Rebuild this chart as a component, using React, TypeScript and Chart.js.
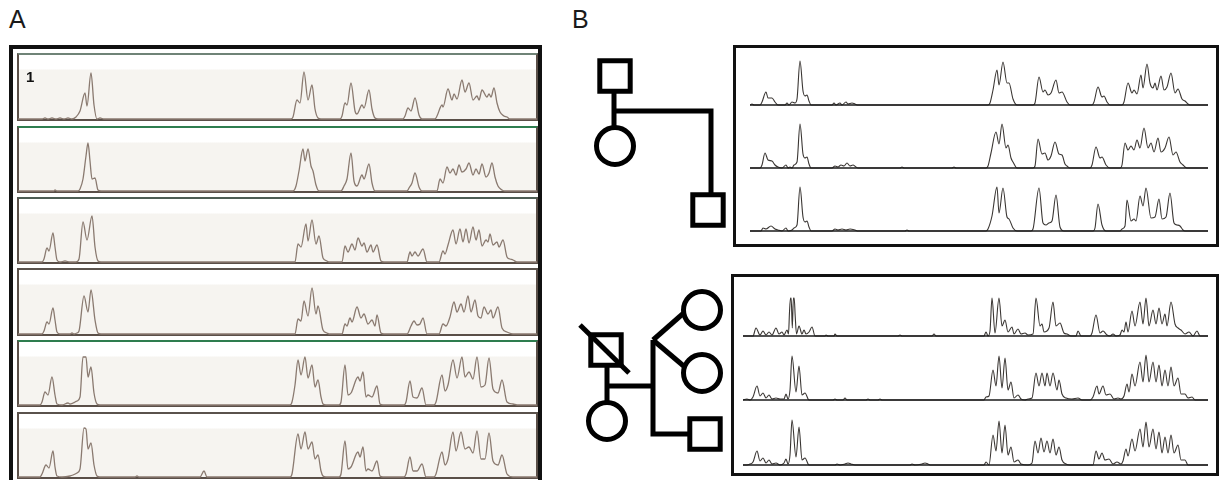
import React, { useEffect, useRef } from "react";
import { Chart, registerables } from "chart.js";
Chart.register(...registerables);

type Pt = [number, number];

// ---------- Panel A traces (x = page px, y = peak height above baseline) ----------
const traceA1: Pt[] = [[18,0],[42,0],[45,1],[48,0],[52,1],[56,0],[60,1],[64,0],[68,1],[72,0],[76,2],[80,8],[85,26],[87,13],[91,46],[94,14],[97,0],[100,1],[104,0],
[291,0],[293,2],[297,19],[300,16],[304,47],[308,19],[312,34],[315,10],[318,1],[321,0],
[340,0],[342,3],[345,16],[347,14],[351,36],[355,8],[357,5],[362,14],[364,11],[369,29],[372,10],[375,1],[378,0],
[403,0],[405,3],[408,11],[411,8],[415,21],[419,4],[422,0],
[435,0],[437,3],[442,14],[443,12],[448,30],[452,19],[454,25],[457,20],[462,39],[465,27],[469,36],[473,19],[477,23],[479,19],[482,29],[487,22],[489,25],[491,22],[494,31],[497,16],[500,7],[504,3],[507,2],[510,0],[537,0]];

const traceA2: Pt[] = [[18,0],[54,0],[55,1],[57,0],[78,0],[80,2],[83,12],[86,35],[88,48],[90,30],[92,12],[95,13],[98,1],[101,0],
[293,0],[296,5],[299,20],[303,42],[305,30],[308,42],[311,25],[313,20],[316,6],[319,0],
[341,0],[344,5],[347,12],[351,38],[354,10],[357,5],[362,16],[364,12],[369,27],[372,8],[375,0],
[407,0],[409,3],[412,8],[415,18],[419,4],[422,0],
[437,0],[440,12],[443,8],[447,24],[450,18],[453,22],[456,16],[459,26],[462,19],[466,22],[469,28],[473,16],[476,22],[479,17],[482,27],[486,14],[489,18],[492,28],[495,14],[498,5],[502,1],[505,0],[537,0]];

const traceA3: Pt[] = [[18,0],[42,0],[44,3],[47,14],[49,11],[53,29],[55,15],[57,2],[60,0],[65,1],[70,0],[76,0],[79,3],[83,40],[87,22],[92,46],[95,15],[98,1],[101,0],
[295,0],[298,18],[301,15],[306,38],[308,21],[312,42],[316,18],[319,26],[323,4],[327,1],[329,0],
[342,0],[345,16],[348,10],[352,18],[355,12],[358,24],[362,16],[364,19],[367,10],[371,17],[373,10],[377,17],[381,1],[384,0],
[407,0],[410,10],[412,6],[415,10],[418,6],[423,13],[427,0],
[439,0],[443,11],[445,8],[448,17],[453,32],[456,18],[460,33],[463,20],[466,33],[469,19],[473,35],[476,22],[479,32],[482,16],[486,22],[488,20],[490,28],[493,17],[497,20],[499,15],[503,22],[507,5],[510,3],[513,2],[517,0],[537,0]];

const traceA4: Pt[] = [[18,0],[42,0],[44,3],[47,12],[49,10],[53,26],[55,14],[57,2],[60,0],[70,0],[72,1],[74,0],[77,1],[79,3],[84,38],[88,22],[91,44],[95,14],[98,1],[101,0],
[295,0],[298,15],[301,13],[304,33],[308,18],[312,46],[316,20],[318,28],[323,4],[327,1],[329,0],
[342,0],[345,10],[347,8],[350,16],[352,12],[357,27],[361,16],[364,20],[368,10],[372,14],[375,8],[377,19],[381,1],[384,0],
[407,0],[411,8],[414,13],[417,9],[420,10],[423,16],[427,0],
[439,0],[443,10],[446,8],[450,17],[454,32],[457,22],[461,30],[464,22],[468,38],[471,22],[475,34],[478,18],[481,16],[484,27],[488,20],[491,24],[493,16],[498,27],[502,6],[507,2],[513,0],[537,0]];

const traceA5: Pt[] = [[18,0],[40,0],[42,3],[45,13],[48,10],[52,28],[55,10],[57,1],[62,0],[68,2],[70,1],[73,2],[75,3],[77,4],[80,8],[83,48],[86,48],[88,28],[91,38],[94,12],[97,1],[100,0],
[290,0],[292,3],[295,20],[298,45],[301,30],[305,48],[308,27],[312,40],[315,18],[318,25],[321,8],[323,1],[326,0],
[339,0],[341,3],[345,40],[348,10],[351,12],[358,28],[360,24],[363,33],[366,8],[368,10],[372,8],[377,19],[380,1],[383,0],
[404,0],[406,3],[410,24],[413,8],[417,7],[422,17],[426,0],
[434,0],[436,3],[442,30],[445,14],[448,20],[453,45],[457,27],[462,48],[465,28],[469,33],[473,26],[477,48],[481,18],[485,20],[489,47],[493,16],[498,12],[502,25],[507,3],[513,1],[517,0],[537,0]];

const traceA6: Pt[] = [[18,0],[40,0],[42,3],[46,12],[49,9],[53,26],[55,10],[57,1],[62,0],[70,1],[73,2],[77,4],[80,8],[84,49],[86,48],[88,28],[91,34],[94,12],[97,1],[100,0],[135,0],[137,1],[139,0],[200,0],[204,6],[207,0],
[290,0],[292,3],[298,43],[301,28],[305,45],[308,28],[312,35],[315,18],[318,22],[321,6],[323,1],[326,0],
[339,0],[341,3],[345,36],[348,8],[351,10],[358,25],[360,20],[363,30],[366,6],[368,8],[372,6],[377,16],[380,1],[383,0],
[404,0],[406,3],[410,20],[413,6],[417,6],[422,13],[426,0],
[434,0],[436,3],[442,25],[445,12],[448,18],[453,45],[456,26],[461,45],[465,28],[469,30],[473,24],[477,46],[481,18],[485,18],[489,44],[493,16],[498,12],[502,22],[507,3],[513,0],[537,0]];

// ---------- Panel B traces ----------
const traceB1: Pt[] = [[750,0],[752,1],[754,0],[760,0],[762,3],[766,13],[768,7],[772,7],[775,3],[778,0],[785,0],[787,2],[789,0],[792,3],[795,2],[797,6],[800,44],[803,14],[805,9],[807,10],[809,4],[811,0],[832,0],[834,2],[836,0],[840,2],[842,0],[846,3],[848,1],[852,2],[855,1],[858,0],
[988,0],[990,2],[993,15],[997,35],[999,20],[1003,43],[1007,22],[1009,22],[1013,6],[1017,0],
[1033,0],[1035,2],[1039,28],[1043,13],[1045,15],[1048,10],[1051,12],[1056,25],[1059,12],[1062,13],[1067,3],[1070,0],
[1092,0],[1094,3],[1098,18],[1102,8],[1104,9],[1107,3],[1110,0],
[1122,0],[1124,3],[1128,22],[1132,12],[1134,15],[1137,11],[1141,30],[1143,17],[1147,41],[1150,22],[1153,17],[1155,22],[1157,15],[1161,29],[1164,15],[1167,18],[1171,32],[1175,12],[1178,16],[1182,6],[1185,4],[1188,1],[1190,0],[1208,0]];

const traceB2: Pt[] = [[750,0],[760,0],[762,3],[765,15],[768,8],[772,7],[775,3],[778,1],[782,0],[786,3],[788,0],[790,1],[792,0],[794,3],[797,6],[800,44],[803,14],[805,10],[807,11],[809,4],[811,0],[832,0],[835,2],[838,1],[841,3],[844,2],[847,5],[850,2],[853,3],[856,1],[858,0],[900,0],[902,1],[904,0],[952,0],[954,1],[956,0],
[986,0],[988,2],[991,15],[996,36],[999,24],[1002,44],[1006,20],[1008,23],[1011,10],[1013,6],[1017,0],
[1033,0],[1035,2],[1038,29],[1042,14],[1045,15],[1048,8],[1051,12],[1055,26],[1059,14],[1062,13],[1065,4],[1067,2],[1070,0],
[1090,0],[1092,3],[1096,21],[1100,10],[1102,11],[1106,3],[1110,0],
[1120,0],[1122,3],[1125,25],[1128,18],[1131,22],[1134,18],[1137,28],[1140,20],[1144,40],[1148,20],[1151,25],[1154,16],[1158,30],[1161,16],[1165,20],[1169,31],[1173,13],[1176,16],[1180,6],[1183,3],[1185,1],[1187,0],[1208,0]];

const traceB3: Pt[] = [[750,0],[761,0],[763,3],[766,2],[771,5],[775,2],[778,1],[782,0],[786,3],[788,0],[792,1],[794,3],[797,6],[800,44],[803,14],[805,9],[807,10],[809,4],[811,0],[832,0],[835,2],[838,1],[842,2],[846,1],[850,2],[855,1],[858,0],[905,0],[907,1],[909,0],
[986,0],[988,2],[992,15],[997,44],[999,18],[1003,43],[1007,14],[1009,12],[1013,3],[1017,0],
[1031,0],[1033,2],[1039,43],[1043,8],[1046,6],[1049,8],[1052,10],[1056,36],[1060,4],[1064,0],
[1093,0],[1095,3],[1098,27],[1102,6],[1106,0],
[1120,0],[1122,2],[1125,5],[1127,31],[1131,10],[1134,12],[1136,10],[1140,35],[1143,25],[1146,43],[1151,13],[1155,14],[1159,32],[1162,12],[1166,14],[1170,38],[1174,8],[1177,6],[1180,5],[1183,1],[1185,0],[1208,0]];

const traceB4: Pt[] = [[743,0],[753,0],[756,8],[760,1],[763,5],[766,1],[769,4],[772,1],[776,8],[779,2],[782,4],[784,1],[787,6],[788.5,2],[789.5,24],[790.5,38],[791.2,38],[792.3,8],[793.4,38],[794.2,38],[795.2,20],[796.5,2],[799,10],[802,2],[804,6],[806,2],[809,4],[812,9],[815,0],[825,0],[826,1],[828,0],[834,0],[835,2],[837,0],[898,0],[900,1],[902,0],[932,0],[934,2],[936,0],
[984,0],[986,4],[988,0],[990,5],[992,38],[995,3],[999,38],[1002,10],[1005,16],[1008,4],[1012,9],[1014,2],[1018,7],[1021,2],[1025,3],[1028,1],[1033,2],[1036,38],[1040,10],[1042,12],[1044,4],[1049,8],[1053,34],[1056,10],[1060,13],[1064,3],[1067,2],[1071,0],[1076,0],[1078,5],[1081,0],[1090,0],[1092,3],[1096,21],[1100,3],[1103,5],[1107,1],[1110,0],[1113,2],[1116,0],[1120,1],[1122,6],[1124,4],[1126,14],[1128,4],[1132,25],[1135,10],[1140,34],[1143,12],[1146,38],[1149,10],[1153,26],[1156,12],[1159,28],[1162,12],[1165,22],[1167,10],[1171,34],[1175,12],[1178,8],[1181,6],[1185,2],[1189,4],[1193,0],[1197,5],[1200,0],[1208,0]];

const traceB5: Pt[] = [[743,0],[747,1],[750,0],[753,3],[757,14],[760,4],[763,7],[766,2],[769,5],[772,1],[776,2],[780,1],[784,1],[786,6],[788,1],[790,10],[792,44],[796,8],[799,34],[802,5],[805,7],[809,0],[833,0],[835,1],[837,0],[843,0],[845,2],[847,0],[866,0],[868,1],[870,0],[878,0],[880,1],[882,0],
[984,0],[986,3],[989,4],[993,30],[996,14],[999,44],[1002,12],[1005,42],[1008,10],[1011,18],[1014,2],[1018,5],[1021,1],[1025,0],[1028,1],[1032,2],[1036,27],[1039,14],[1042,27],[1045,14],[1047,27],[1050,14],[1053,27],[1057,10],[1059,20],[1062,6],[1066,2],[1072,1],[1078,2],[1082,0],[1090,0],[1093,3],[1097,14],[1099,6],[1103,14],[1106,5],[1110,6],[1114,1],[1118,2],[1121,1],[1124,4],[1127,16],[1129,8],[1132,26],[1135,14],[1140,38],[1143,18],[1146,45],[1149,18],[1153,38],[1156,18],[1159,35],[1162,14],[1165,30],[1168,14],[1171,33],[1174,14],[1178,22],[1181,6],[1185,6],[1188,2],[1192,3],[1195,0],[1208,0]];

const traceB6: Pt[] = [[743,0],[747,0],[750,1],[753,3],[757,14],[760,4],[763,7],[766,2],[769,5],[772,1],[776,2],[780,0],[784,2],[786,6],[788,1],[790,10],[792,45],[796,8],[799,38],[802,5],[805,7],[809,0],[835,0],[837,1],[840,0],[845,1],[848,2],[851,1],[855,0],[910,0],[912,1],[915,0],[922,1],[925,2],[928,1],[931,0],
[984,0],[986,3],[989,0],[993,30],[996,14],[999,44],[1002,12],[1005,40],[1008,10],[1011,18],[1014,3],[1018,5],[1021,1],[1028,0],[1032,2],[1035,24],[1038,12],[1041,27],[1044,13],[1047,24],[1050,12],[1053,26],[1056,10],[1059,18],[1062,5],[1066,1],[1070,0],[1093,0],[1096,14],[1099,6],[1102,12],[1105,5],[1109,6],[1113,1],[1117,3],[1121,1],[1123,4],[1126,16],[1128,9],[1132,26],[1135,14],[1140,36],[1143,18],[1146,43],[1149,18],[1153,36],[1156,16],[1159,33],[1162,12],[1165,28],[1168,12],[1171,30],[1174,12],[1178,20],[1181,5],[1185,5],[1188,0],[1208,0]];

// ---------- Pedigree symbols (page px) ----------
const pedSquares: Pt[] = [[615,76],[708,210],[606,350],[705,434]];
const pedCircles: Pt[] = [[615,146],[702,310],[702,373],[607,421]];
const pedLines: Pt[][] = [
  [[614,76],[614,146]],
  [[614,111],[711,111],[711,210]],
  [[607,350],[607,421]],
  [[607,386],[653,386]],
  [[653,340],[653,434],[705,434]],
  [[653,340],[686,311]],
  [[653,340],[686,368]],
];
const pedSlash: Pt[] = [[580,325],[629,373]];

// Panel A layout
const boxTopsA = [53, 126, 197, 268, 340, 412];
const baselinesA = [119, 191, 262, 334, 405, 477];
const topColorsA = ["#6f8377", "#2e7d4f", "#4d5d54", "#5a524c", "#2e7d4f", "#5a524c"];
const tracesA = [traceA1, traceA2, traceA3, traceA4, traceA5, traceA6];
const tracesB = [traceB1, traceB2, traceB3, traceB4, traceB5, traceB6];
const baselinesB = [105, 168, 231, 336, 400, 465];
const startB = [750, 750, 750, 743, 743, 743];

const toXY = (p: Pt[]) => p.map(([x, y]) => ({ x, y }));

function Trace(props: { pts: Pt[]; x0: number; x1: number; baseY: number; color: string; lw: number; base?: string }) {
  const { pts, x0, x1, baseY, color, lw, base } = props;
  const ref = useRef<HTMLCanvasElement>(null);
  const h = 60;
  const ymin = -2;
  useEffect(() => {
    const datasets: any[] = [];
    if (base) {
      datasets.push({ data: [{ x: x0, y: 0 }, { x: x1, y: 0 }], borderColor: base, borderWidth: 1.6, pointRadius: 0 });
    }
    datasets.push({
      data: toXY(pts),
      borderColor: color,
      borderWidth: lw,
      pointRadius: 0,
      cubicInterpolationMode: "monotone",
      fill: false,
    });
    const chart = new Chart(ref.current as HTMLCanvasElement, {
      type: "line",
      data: { datasets },
      options: {
        animation: false,
        responsive: false,
        events: [],
        layout: { padding: 0, autoPadding: false },
        plugins: { legend: { display: false }, tooltip: { enabled: false } },
        scales: {
          x: { type: "linear", min: x0, max: x1, display: false },
          y: { type: "linear", min: ymin, max: ymin + h, display: false },
        },
      },
    });
    return () => chart.destroy();
  }, []);
  return (
    <canvas
      ref={ref}
      width={x1 - x0}
      height={h}
      style={{ position: "absolute", left: x0, top: baseY - (h + ymin), width: x1 - x0, height: h }}
    />
  );
}

function Pedigree() {
  const ref = useRef<HTMLCanvasElement>(null);
  const X0 = 560, X1 = 735, Y0 = 40, Y1 = 480;
  useEffect(() => {
    const datasets: any[] = [];
    datasets.push({ data: toXY(pedSlash), borderColor: "#000", borderWidth: 5, pointRadius: 0, borderCapStyle: "butt" });
    datasets.push({
      data: toXY(pedSquares), showLine: false, pointStyle: "rect", pointRadius: 21.5,
      pointBorderWidth: 5, pointBorderColor: "#000", pointBackgroundColor: "#fff",
    });
    datasets.push({
      data: toXY(pedCircles), showLine: false, pointStyle: "circle", pointRadius: 18.5,
      pointBorderWidth: 5, pointBorderColor: "#000", pointBackgroundColor: "#fff",
    });
    pedLines.forEach((l) =>
      datasets.push({ data: toXY(l), borderColor: "#000", borderWidth: 5, pointRadius: 0, borderJoinStyle: "miter", tension: 0 })
    );
    const chart = new Chart(ref.current as HTMLCanvasElement, {
      type: "line",
      data: { datasets },
      options: {
        animation: false,
        responsive: false,
        events: [],
        layout: { padding: 0, autoPadding: false },
        plugins: { legend: { display: false }, tooltip: { enabled: false } },
        scales: {
          x: { type: "linear", min: X0, max: X1, display: false },
          y: { type: "linear", min: Y0, max: Y1, reverse: true, display: false },
        },
      },
    });
    return () => chart.destroy();
  }, []);
  return (
    <canvas ref={ref} width={X1 - X0} height={Y1 - Y0}
      style={{ position: "absolute", left: X0, top: Y0, width: X1 - X0, height: Y1 - Y0 }} />
  );
}

const font = "'Liberation Sans', Arial, Helvetica, sans-serif";

export default function App() {
  return (
    <div style={{ position: "absolute", left: 0, top: 0, width: 1220, height: 480, overflow: "hidden", background: "#fff" }}>
      <div style={{ position: "absolute", left: 9, top: 7, fontFamily: font, fontSize: 25, lineHeight: "25px", color: "#1a1a1a" }}>A</div>
      <div style={{ position: "absolute", left: 572, top: 7, fontFamily: font, fontSize: 25, lineHeight: "25px", color: "#1a1a1a" }}>B</div>

      {/* Panel A outer frame */}
      <div style={{ position: "absolute", left: 9, top: 45, width: 533, height: 450, border: "4px solid #111", boxSizing: "border-box" }} />
      {boxTopsA.map((t, i) => (
        <div key={"ba" + i} style={{
          position: "absolute", left: 17, top: t, width: 521, height: baselinesA[i] - t + 2,
          boxSizing: "border-box", border: "2px solid #5a4f48", borderTopColor: topColorsA[i],
          background: "linear-gradient(to bottom, #ffffff 0px, #ffffff 14px, #f6f4f0 15px, #f6f4f0 100%)",
        }} />
      ))}
      <div style={{ position: "absolute", left: 26, top: 69, fontFamily: font, fontSize: 15, fontWeight: "bold", lineHeight: "15px", color: "#111", zIndex: 2 }}>1</div>
      {tracesA.map((p, i) => (
        <Trace key={"ta" + i} pts={p} x0={18} x1={537} baseY={baselinesA[i]} color="#8a7a70" lw={1.3} />
      ))}

      {/* Panel B frames */}
      <div style={{ position: "absolute", left: 733, top: 45, width: 486, height: 202, border: "3px solid #111", boxSizing: "border-box" }} />
      <div style={{ position: "absolute", left: 731, top: 274, width: 488, height: 202, border: "3px solid #111", boxSizing: "border-box" }} />
      {tracesB.map((p, i) => (
        <Trace key={"tb" + i} pts={p} x0={startB[i]} x1={1208} baseY={baselinesB[i]} color="#3a3633" lw={1.1} base="#1a1a1a" />
      ))}

      <Pedigree />
    </div>
  );
}
